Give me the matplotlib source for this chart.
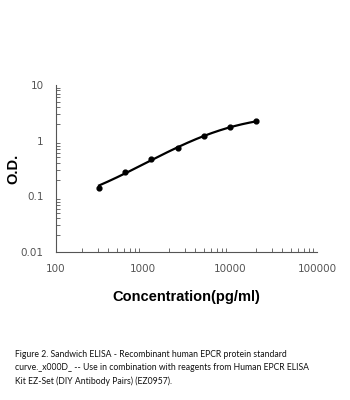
import numpy as np
import matplotlib
matplotlib.use("Agg")
import matplotlib.pyplot as plt
from matplotlib.ticker import LogLocator, NullFormatter, FixedLocator, FixedFormatter

# Standard curve data
conc = [312.5, 625, 1250, 2500, 5000, 10000, 20000]
od = [0.143, 0.273, 0.46, 0.746, 1.21, 1.75, 2.22]
x_ticks = [100, 1000, 10000, 100000]
x_labels = ["100", "1000", "10000", "100000"]
y_ticks = [0.01, 0.1, 1, 10]
y_labels = ["0.01", "0.1", "1", "10"]


def logistic_shape(x, b, c):
    return 1.0 / (1.0 + (c / x) ** b)


def fit_4pl(x, y):
    """Four-parameter logistic fit y = a + (d - a) / (1 + (c/x)^b).

    b and c are searched on a grid; a and d are solved by linear least squares.
    """
    x = np.asarray(x, float)
    y = np.asarray(y, float)
    best = None
    for b in np.linspace(0.3, 2.5, 221):
        for lc in np.linspace(2.5, 6.0, 351):
            g = logistic_shape(x, b, 10 ** lc)
            A = np.column_stack([1.0 - g, g])
            (a, d), *_ = np.linalg.lstsq(A, y, rcond=None)
            if a < 0:
                continue
            err = np.sum((y - A @ np.array([a, d])) ** 2)
            if best is None or err < best[0]:
                best = (err, a, b, 10 ** lc, d)
    return best[1:]


fig = plt.figure(figsize=(3.5, 4.0), dpi=100)
ax = fig.add_axes([0.16, 0.37, 0.746, 0.4175])

a, b, c, d = fit_4pl(conc, od)
xf = np.logspace(np.log10(conc[0]), np.log10(conc[-1]), 200)
ax.plot(xf, a + (d - a) * logistic_shape(xf, b, c), color="black", lw=1.6, zorder=2)
ax.scatter(conc, od, s=12, color="black", zorder=3)

ax.set_xscale("log")
ax.set_yscale("log")
ax.set_xlim(100, 100000)
ax.set_ylim(0.01, 10)

for s in ["top", "right"]:
    ax.spines[s].set_visible(False)
for s in ["left", "bottom"]:
    ax.spines[s].set_color("#555555")
    ax.spines[s].set_linewidth(0.8)

ax.xaxis.set_major_locator(FixedLocator(x_ticks))
ax.xaxis.set_major_formatter(FixedFormatter(x_labels))
ax.yaxis.set_major_locator(FixedLocator(y_ticks))
ax.yaxis.set_major_formatter(FixedFormatter(y_labels))
ax.xaxis.set_minor_locator(LogLocator(base=10, subs=np.arange(2, 10)))
ax.yaxis.set_minor_locator(LogLocator(base=10, subs=np.arange(2, 10)))
ax.xaxis.set_minor_formatter(NullFormatter())
ax.yaxis.set_minor_formatter(NullFormatter())
ax.tick_params(which="major", length=0, pad=9, labelsize=7.5, labelcolor="#555555")
ax.tick_params(which="minor", direction="in", length=3, width=0.6, color="#555555")

ax.set_xlabel("Concentration(pg/ml)", fontsize=10.5, fontweight="bold",
              family="Liberation Sans")
ax.xaxis.set_label_coords(0.5, -0.23)
ax.set_ylabel("O.D.", fontsize=10.5, fontweight="bold",
              family="Liberation Sans")
ax.yaxis.set_label_coords(-0.135, 0.5)

caption = ("Figure 2. Sandwich ELISA - Recombinant human EPCR protein standard\n"
           "curve._x000D_ -- Use in combination with reagents from Human EPCR ELISA\n"
           "Kit EZ-Set (DIY Antibody Pairs) (EZ0957).")
fig.text(0.043, 0.035, caption, fontsize=6.2, family="Lato", color="#111111",
         linespacing=1.6, va="bottom", ha="left")

fig.savefig("out.png", dpi=100, facecolor="white")
